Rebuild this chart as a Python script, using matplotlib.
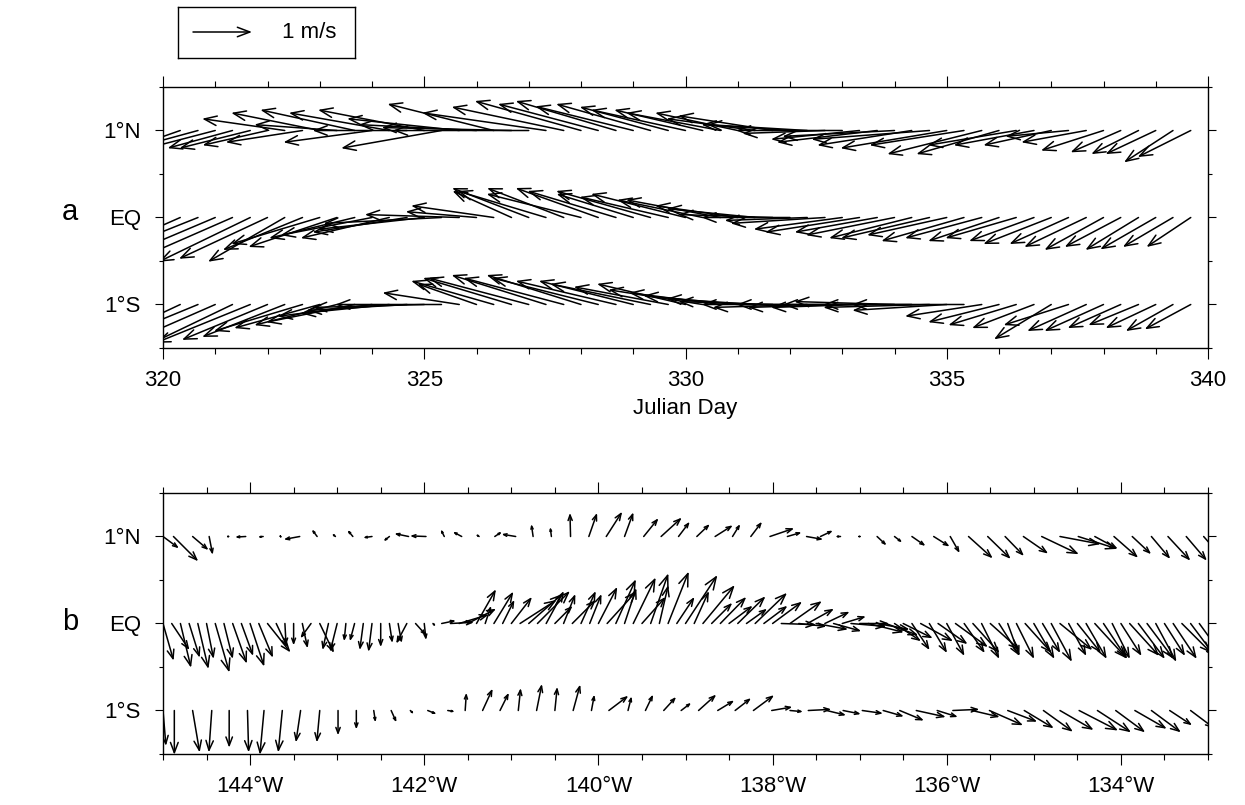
import numpy as np
import matplotlib
matplotlib.use('Agg')
import matplotlib.pyplot as plt
from matplotlib.patches import FancyArrowPatch, ArrowStyle
from matplotlib.ticker import MultipleLocator, FixedLocator, FuncFormatter

plt.rcParams['font.family'] = ['Liberation Sans', 'DejaVu Sans']

# ---- panel a: current vectors vs Julian day at 1N, EQ, 1S ----
day = [320.00, 320.33, 320.67, 321.00, 321.33, 321.67, 322.00, 322.33, 322.67, 323.00,
       323.33, 323.67, 324.00, 324.33, 324.67, 325.00, 325.33, 325.67, 326.00, 326.33,
       326.67, 327.00, 327.33, 327.67, 328.00, 328.33, 328.67, 329.00, 329.33, 329.67,
       330.00, 330.33, 330.67, 331.00, 331.33, 331.67, 332.00, 332.33, 332.67, 333.00,
       333.33, 333.67, 334.00, 334.33, 334.67, 335.00, 335.33, 335.67, 336.00, 336.33,
       336.67, 337.00, 337.33, 337.67, 338.00, 338.33, 338.67, 339.00, 339.33, 339.67]

u_1n = [-0.90, -1.00, -1.10, -1.15, -1.10, -1.20, -1.10, -1.40, -1.30, -1.50,
        -1.40, -1.60, -1.50, -1.70, -1.60, -1.80, -1.70, -1.90, -2.00, -1.80,
        -2.20, -2.30, -2.10, -1.90, -1.80, -1.70, -1.70, -1.66, -1.60, -1.50,
        -1.60, -1.50, -1.60, -1.40, -1.50, -1.60, -1.50, -1.70, -1.40, -1.80,
        -1.50, -1.70, -1.90, -1.60, -2.00, -1.80, -1.60, -1.60, -1.40, -1.50,
        -1.36, -1.15, -1.07, -1.10, -1.06, -0.85, -0.80, -0.85, -0.83, -0.90]
v_1n = [-0.35, -0.35, -0.30, -0.30, -0.30, -0.30, -0.25, 0.20, -0.20, 0.30,
        0.10, 0.35, -0.20, 0.30, 0.00, 0.35, -0.30, 0.20, 0.10, 0.45,
        0.05, 0.00, 0.30, 0.40, 0.50, 0.45, 0.50, 0.41, 0.45, 0.40,
        0.35, 0.35, 0.30, 0.30, 0.20, 0.25, 0.10, 0.10, -0.05, 0.00,
        -0.15, -0.20, -0.10, -0.25, -0.15, -0.30, -0.25, -0.40, -0.40, -0.25,
        -0.25, -0.25, -0.10, -0.20, -0.34, -0.37, -0.40, -0.40, -0.54, -0.45]

u_eq = [-1.70, -1.70, -1.75, -1.70, -1.60, -1.55, -1.50, -1.30, -1.35, -1.50,
        -1.50, -1.45, -1.55, -1.50, -1.60, -1.80, -2.00, -1.60, -1.20, -1.40,
        -1.00, -1.30, -1.50, -1.30, -1.60, -1.40, -1.50, -1.30, -1.60, -1.50,
        -1.60, -1.45, -1.60, -1.40, -1.50, -1.60, -1.50, -1.40, -1.60, -1.50,
        -1.60, -1.40, -1.50, -1.40, -1.50, -1.35, -1.40, -1.30, -1.20, -1.20,
        -1.10, -1.15, -1.00, -1.05, -1.00, -0.95, -0.90, -0.94, -0.85, -0.75]
v_eq = [-0.70, -0.75, -0.70, -0.72, -0.70, -0.75, -0.70, -0.75, -0.55, -0.45,
        -0.50, -0.35, -0.30, -0.35, -0.25, -0.20, -0.10, 0.05, 0.10, 0.20,
        0.45, 0.50, 0.45, 0.50, 0.40, 0.50, 0.45, 0.40, 0.45, 0.35,
        0.40, 0.30, 0.30, 0.20, 0.15, 0.05, 0.00, -0.05, -0.10, -0.20,
        -0.25, -0.25, -0.30, -0.35, -0.35, -0.30, -0.40, -0.35, -0.40, -0.35,
        -0.40, -0.45, -0.45, -0.50, -0.55, -0.50, -0.55, -0.54, -0.50, -0.50]

u_1s = [-1.60, -1.60, -1.70, -1.60, -1.50, -1.60, -1.45, -1.40, -1.50, -1.45,
        -1.40, -1.50, -1.60, -1.50, -1.70, -1.90, -1.80, -1.30, -1.00, -1.40,
        -1.50, -1.70, -1.60, -1.70, -1.60, -1.80, -1.70, -1.60, -1.70, -1.60,
        -1.50, -1.60, -1.55, -1.60, -1.50, -1.60, -1.50, -1.60, -1.50, -1.60,
        -1.50, -1.60, -1.70, -1.50, -1.80, -1.60, -1.90, -1.30, -1.20, -1.15,
        -1.05, -0.97, -1.10, -1.00, -1.00, -0.90, -0.85, -0.85, -0.80, -0.78]
v_1s = [-0.70, -0.75, -0.70, -0.70, -0.72, -0.65, -0.60, -0.55, -0.45, -0.40,
        -0.35, -0.30, -0.20, -0.15, -0.10, -0.05, 0.00, 0.20, 0.35, 0.40,
        0.45, 0.45, 0.50, 0.45, 0.50, 0.45, 0.40, 0.40, 0.35, 0.30,
        0.35, 0.25, 0.20, 0.15, 0.10, 0.05, 0.00, -0.05, 0.00, -0.05,
        -0.05, 0.00, 0.05, 0.00, -0.05, -0.10, 0.00, -0.20, -0.30, -0.35,
        -0.40, -0.59, -0.35, -0.45, -0.45, -0.40, -0.35, -0.40, -0.45, -0.42]

# ---- panel b: current vectors vs longitude at 1N, EQ, 1S ----
lon_1n = [-145.00, -144.88, -144.66, -144.47, -144.25, -144.05, -143.85, -143.65, -143.43, -143.23,
          -143.02, -142.82, -142.60, -142.40, -142.18, -141.98, -141.77, -141.57, -141.37, -141.19,
          -140.95, -140.75, -140.54, -140.32, -140.11, -139.91, -139.70, -139.48, -139.28, -139.08,
          -138.87, -138.66, -138.46, -138.25, -138.03, -137.83, -137.61, -137.45, -137.22, -137.00,
          -136.80, -136.60, -136.40, -136.15, -135.96, -135.75, -135.53, -135.33, -135.12, -134.91,
          -134.70, -134.49, -134.30, -134.08, -133.87, -133.65, -133.46, -133.25, -133.05]
ub_1n = [0.27, 0.42, 0.27, 0.06, 0.02, -0.18, -0.09, 0.02, -0.27, -0.09,
         -0.06, -0.09, -0.15, -0.10, -0.24, -0.27, -0.06, -0.15, -0.06, 0.12,
         -0.24, -0.03, -0.02, -0.01, 0.14, 0.27, 0.15, 0.25, 0.35, 0.19,
         0.22, 0.30, 0.13, 0.19, 0.41, 0.24, 0.28, 0.21, -0.09, 0.02,
         0.16, 0.13, 0.23, 0.27, 0.16, 0.41, 0.39, 0.32, 0.42, 0.63,
         0.69, 0.66, 0.39, 0.41, 0.32, 0.32, 0.38, 0.35, 0.35]
vb_1n = [-0.20, -0.42, -0.23, -0.31, 0.00, -0.01, -0.01, -0.03, -0.05, 0.12,
         0.05, 0.11, -0.02, -0.08, 0.05, 0.01, 0.12, 0.08, 0.04, 0.08,
         0.04, 0.21, 0.16, 0.40, 0.40, 0.42, 0.41, 0.31, 0.32, 0.25,
         0.21, 0.19, 0.21, 0.25, 0.14, 0.07, -0.05, 0.10, 0.00, 0.00,
         -0.15, -0.10, -0.16, -0.17, -0.28, -0.37, -0.38, -0.33, -0.29, -0.30,
         -0.13, -0.21, -0.21, -0.36, -0.30, -0.38, -0.41, -0.41, -0.40]

lon_eq1 = [-145.0, -144.8, -144.6, -144.4, -144.2, -144.0, -143.8, -143.6, -143.4, -143.2,
           -143.0, -142.8, -142.6, -142.4, -142.2, -142.0, -141.8, -141.6, -141.4, -141.2,
           -141.0, -140.8, -140.6, -140.4, -140.2, -140.0, -139.8, -139.6, -139.4, -139.2,
           -139.0, -138.8, -138.6, -138.4, -138.2, -138.0, -137.8, -137.6, -137.4, -137.2,
           -137.0, -136.8, -136.6, -136.4, -136.2, -136.0, -135.8, -135.6, -135.4, -135.2,
           -135.0, -134.8, -134.6, -134.4, -134.2, -134.0, -133.8, -133.6, -133.4, -133.2]
ub_eq1 = [0.18, 0.18, 0.18, 0.24, 0.24, 0.24, 0.39, 0.02, 0.09, 0.24,
          -0.12, -0.08, -0.06, 0.05, -0.18, 0.03, 0.24, 0.50, 0.33, 0.33,
          0.35, 0.57, 0.30, 0.20, 0.25, 0.32, 0.34, 0.38, 0.30, 0.35,
          0.54, 0.54, 0.44, 0.47, 0.54, 0.50, 0.54, 0.45, 0.42, 0.40,
          0.50, 0.55, 0.45, 0.30, 0.30, 0.30, 0.35, 0.30, 0.35, 0.30,
          0.35, 0.35, 0.30, 0.35, 0.40, 0.35, 0.45, 0.35, 0.40, 0.45]
vb_eq1 = [-0.63, -0.75, -0.77, -0.83, -0.68, -0.73, -0.49, -0.37, -0.42, -0.50,
          -0.48, -0.30, -0.48, -0.33, -0.34, -0.28, 0.05, 0.15, 0.58, 0.54,
          0.45, 0.50, 0.55, 0.50, 0.55, 0.62, 0.75, 0.78, 0.85, 0.88,
          0.82, 0.65, 0.45, 0.46, 0.52, 0.37, 0.38, 0.25, 0.20, 0.12,
          0.00, -0.10, -0.30, -0.45, -0.50, -0.55, -0.50, -0.60, -0.55, -0.60,
          -0.60, -0.65, -0.55, -0.60, -0.60, -0.55, -0.60, -0.65, -0.60, -0.60]

lon_eq2 = [-144.9, -144.7, -144.5, -144.3, -144.1, -143.9, -143.7, -143.5, -143.3, -143.1,
           -142.9, -142.7, -142.5, -142.3, -142.1, -141.9, -141.7, -141.5, -141.3, -141.1,
           -140.9, -140.7, -140.5, -140.3, -140.1, -139.9, -139.7, -139.5, -139.3, -139.1,
           -138.9, -138.7, -138.5, -138.3, -138.1, -137.9, -137.7, -137.5, -137.3, -137.1,
           -136.9, -136.7, -136.5, -136.3, -136.1, -135.9, -135.7, -135.5, -135.3, -135.1,
           -134.9, -134.7, -134.5, -134.3, -134.1, -133.9, -133.7, -133.5, -133.3, -133.1]
ub_eq2 = [0.30, 0.18, 0.12, 0.15, 0.20, 0.24, 0.19, 0.00, -0.18, -0.10,
          -0.03, -0.06, 0.00, 0.06, 0.18, 0.05, 0.40, 0.48, 0.10, 0.20,
          0.62, 0.55, 0.30, 0.40, 0.20, 0.50, 0.20, 0.40, 0.15, 0.30,
          0.25, 0.35, 0.40, 0.35, 0.40, 0.59, 0.47, 0.54, 0.47, 0.60,
          0.60, 0.55, 0.50, 0.55, 0.50, 0.55, 0.45, 0.50, 0.20, 0.45,
          0.30, 0.55, 0.40, 0.55, 0.30, 0.50, 0.45, 0.35, 0.50, 0.40]
vb_eq2 = [-0.45, -0.58, -0.60, -0.60, -0.55, -0.58, -0.40, -0.37, -0.25, -0.45,
          -0.30, -0.45, -0.40, -0.33, -0.20, -0.05, 0.02, 0.25, 0.30, 0.40,
          0.40, 0.55, 0.30, 0.40, 0.50, 0.55, 0.60, 0.45, 0.65, 0.45,
          0.55, 0.35, 0.30, 0.25, 0.30, -0.02, -0.05, -0.10, -0.13, -0.05,
          -0.15, -0.20, -0.25, -0.30, -0.35, -0.40, -0.50, -0.45, -0.55, -0.50,
          -0.50, -0.45, -0.50, -0.60, -0.60, -0.55, -0.60, -0.55, -0.50, -0.55]

lon_1s = [-145.00, -144.87, -144.66, -144.44, -144.24, -144.03, -143.84, -143.63, -143.42, -143.20,
          -142.99, -142.78, -142.58, -142.38, -142.16, -141.96, -141.73, -141.53, -141.33, -141.13,
          -140.92, -140.71, -140.50, -140.29, -140.08, -139.88, -139.66, -139.46, -139.25, -139.05,
          -138.85, -138.63, -138.43, -138.22, -138.01, -137.80, -137.59, -137.38, -137.19, -136.97,
          -136.73, -136.54, -136.35, -136.11, -135.93, -135.71, -135.51, -135.30, -135.11, -134.89,
          -134.70, -134.48, -134.27, -134.06, -133.84, -133.65, -133.44, -133.20]
ub_1s = [0.05, 0.00, 0.12, -0.05, 0.00, 0.02, -0.07, -0.07, -0.08, -0.05,
         0.00, 0.00, 0.03, 0.09, 0.06, 0.15, 0.12, 0.02, 0.17, 0.15,
         0.04, 0.09, 0.04, 0.12, 0.05, 0.33, 0.06, 0.13, 0.21, 0.17,
         0.30, 0.28, 0.27, 0.35, 0.35, 0.22, 0.39, 0.33, 0.30, 0.35,
         0.35, 0.41, 0.50, 0.35, 0.45, 0.47, 0.57, 0.50, 0.50, 0.50,
         0.57, 0.66, 0.57, 0.50, 0.54, 0.50, 0.38, 0.40]
vb_1s = [-0.60, -0.75, -0.71, -0.71, -0.63, -0.71, -0.75, -0.71, -0.54, -0.54,
         -0.42, -0.32, -0.20, -0.20, -0.06, -0.06, -0.02, 0.30, 0.37, 0.30,
         0.38, 0.45, 0.40, 0.44, 0.27, 0.25, 0.24, 0.27, 0.23, 0.13,
         0.27, 0.17, 0.21, 0.26, 0.06, -0.02, 0.02, -0.08, -0.06, -0.05,
         -0.10, -0.17, -0.11, -0.11, 0.02, -0.11, -0.25, -0.19, -0.30, -0.36,
         -0.33, -0.34, -0.37, -0.37, -0.31, -0.37, -0.25, -0.30]

lat_labels = ['1°S', 'EQ', '1°N']

PX_PER_MS = 59.0   # 1 m/s reference vector length in pixels
W, H = 1245, 805
FS = 16

fig = plt.figure(figsize=(W / 100, H / 100), dpi=100)


def vec(ax, x0, y0, u, v):
    # tail at (x0, y0) in data coords, length in pixels from the m/s scale
    px, py = ax.transData.transform((x0, y0))
    dx, dy = u * PX_PER_MS, v * PX_PER_MS
    L = np.hypot(dx, dy)
    if L < 2:
        dx, dy, L = (2.0 * dx / L, 2.0 * dy / L, 2.0) if L > 0 else (2.0, 0.0, 2.0)
    x1, y1 = ax.transData.inverted().transform((px + dx, py + dy))
    hl = min(12.5, 0.23 * L) * 0.72
    st = ArrowStyle('->', head_length=hl, head_width=hl * 0.38)
    ax.add_patch(FancyArrowPatch((x0, y0), (x1, y1), arrowstyle=st, mutation_scale=1,
                                 shrinkA=0, shrinkB=0, lw=1.1, color='black'))


def style(ax):
    ax.set_ylim(-1.5, 1.5)
    ax.yaxis.set_major_locator(FixedLocator([-1, 0, 1]))
    ax.yaxis.set_minor_locator(MultipleLocator(0.5))
    ax.set_yticklabels(lat_labels)
    ax.tick_params(which='both', direction='out', top=True, right=True, width=0.8, colors='black')
    ax.tick_params(axis='x', which='major', length=8, pad=8, labelsize=FS)
    ax.tick_params(axis='x', which='minor', length=4)
    ax.tick_params(axis='y', which='major', length=6, pad=10, labelsize=FS)
    ax.tick_params(axis='y', which='minor', length=3)
    for s in ax.spines.values():
        s.set_linewidth(1.0)


# panel a
ax = fig.add_axes([163 / W, 1 - 348 / H, 1045 / W, 261 / H])
ax.set_xlim(320, 340)
style(ax)
ax.xaxis.set_major_locator(MultipleLocator(5))
ax.xaxis.set_minor_locator(MultipleLocator(1))
ax.set_xlabel('Julian Day', fontsize=FS, labelpad=5)
for lat, uu, vv in [(1, u_1n, v_1n), (0, u_eq, v_eq), (-1, u_1s, v_1s)]:
    for d, a, b in zip(day, uu, vv):
        vec(ax, d, lat, a, b)

# panel b
bx = fig.add_axes([163 / W, 1 - 754 / H, 1045 / W, 261 / H])
bx.set_xlim(-145, -133)
style(bx)
bx.xaxis.set_major_locator(MultipleLocator(2))
bx.xaxis.set_minor_locator(MultipleLocator(0.5))
bx.xaxis.set_major_formatter(FuncFormatter(lambda x, p: '%d°W' % round(-x)))
rows = [(1, lon_1n, ub_1n, vb_1n), (0, lon_eq1, ub_eq1, vb_eq1),
        (0, lon_eq2, ub_eq2, vb_eq2), (-1, lon_1s, ub_1s, vb_1s)]
for lat, ll, uu, vv in rows:
    for x, a, b in zip(ll, uu, vv):
        vec(bx, x, lat, a, b)

fig.text(70 / W, 1 - 212 / H, 'a', ha='center', va='center', fontsize=21)
fig.text(70 / W, 1 - 622 / H, 'b', ha='center', va='center', fontsize=21)

# reference vector box
lg = fig.add_axes([178 / W, 1 - 58 / H, 177 / W, 51 / H])
lg.set_xlim(0, 177)
lg.set_ylim(0, 51)
lg.set_xticks([])
lg.set_yticks([])
for s in lg.spines.values():
    s.set_linewidth(1.0)
vec(lg, 15, 26, 1.0, 0.0)
lg.text(104, 26, '1 m/s', ha='left', va='center', fontsize=FS)

fig.savefig('out.png', dpi=100)
